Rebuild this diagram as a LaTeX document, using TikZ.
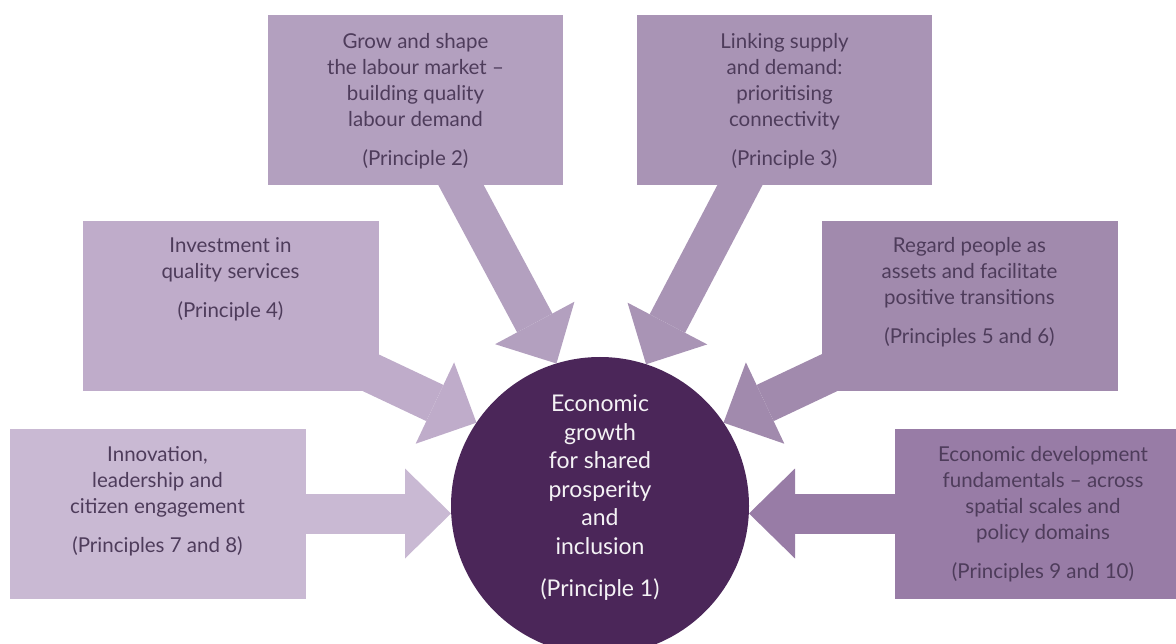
\documentclass[tikz,border=0pt]{standalone}
\usepackage{fontspec}
\setmainfont{Lato}
\usetikzlibrary{positioning, arrows.meta}
\definecolor{ink}{HTML}{4E3C5B}
\definecolor{coreviolet}{HTML}{4B2659}
\definecolor{pala}{HTML}{B3A0BF}
\definecolor{palb}{HTML}{A994B5}
\definecolor{palc}{HTML}{BFACCA}
\definecolor{pald}{HTML}{A18AAD}
\definecolor{pale}{HTML}{C9B9D3}
\definecolor{palf}{HTML}{987CA6}
\pgfdeclarelayer{back}
\pgfsetlayers{back,main}
\tikzset{
	box/.style={
		minimum width=296pt,
		minimum height=170pt,
		inner sep=0pt,
		outer sep=0pt
	},
	boxtext/.style={
		align=center,
		text=ink,
		inner sep=0pt,
		font={\fontsize{20.5}{26}\selectfont}
	},
	coretext/.style={
		align=center,
		text=white!94!coreviolet,
		inner sep=0pt,
		font={\fontsize{23}{28.5}\selectfont}
	},
	flow/.style={
		draw=#1,
		line width=40pt,
		-{Triangle[width=90pt, length=46pt, line width=0pt]}
	}
}

\begin{document}
\begin{tikzpicture}[x=1pt, y=-1pt]
		\useasboundingbox (0,0) rectangle (1176,644);
		\clip (0,0) rectangle (1176,644);
		
		\node(core)[circle, fill=coreviolet, minimum size=298pt, inner sep=0pt, outer sep=0pt] at (600,506) {};
		\node(box2)[box, fill=pala, minimum width=295pt] at (415.5,100) {};
		\node(box3)[box, fill=palb, minimum width=295pt, right=74pt of box2] {};
		\node(box4)[box, fill=palc] at (230.5,306.5) {};
		\node(box5)[box, fill=pald] at (969.5,306.5) {};
		\node(box7)[box, fill=pale] at (157.5,513.5) {};
		\node(box9)[box, fill=palf] at (1043,513.5) {};
		
		\begin{pgfonlayer}{back}
		\draw[flow=pala] (box2.center) -- (core.107);
		\draw[flow=palb] (box3.center) -- (core.72);
		\draw[flow=palc] (box4.center) -- (core.146);
		\draw[flow=pald] (box5.center) -- (core.34);
		\draw[flow=pale] (box7.center) -- (box7.center -| core.west);
		\draw[flow=palf] (box9.center) -- (box9.center -| core.east);
		\end{pgfonlayer}
		
		\node(txt2)[boxtext, below=18pt of box2.north]{Grow and shape\\the labour market --\\building quality\\labour demand\\[13pt](Principle 2)};
		\node(txt3)[boxtext, below=18pt of box3.north]{Linking supply\\and demand:\\prioritising\\connectivity\\[13pt](Principle 3)};
		\node(txt4)[boxtext, below=16pt of box4.north]{Investment in\\quality services\\[13pt](Principle 4)};
		\node(txt5)[boxtext, below=16pt of box5.north]{Regard people as\\assets and facilitate\\positive transitions\\[13pt](Principles 5 and 6)};
		\node(txt7)[boxtext, below=18pt of box7.north]{Innovation,\\leadership and\\citizen engagement\\[13pt](Principles 7 and 8)};
		\node(txt9)[boxtext, below=18pt of box9.north]{Economic development\\fundamentals -- across\\spatial scales and\\policy domains\\[13pt](Principles 9 and 10)};
		\node(txt1)[coretext, below=38pt of core.north]{Economic\\growth\\for shared\\prosperity\\and\\inclusion\\[14pt](Principle 1)};
		\end{tikzpicture}
\end{document}
